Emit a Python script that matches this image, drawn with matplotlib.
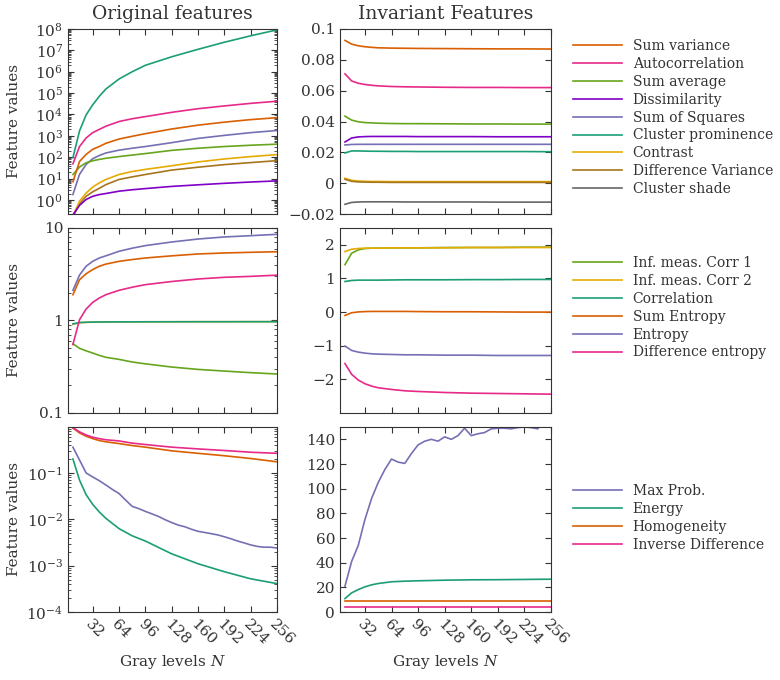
import matplotlib
matplotlib.use("Agg")
import matplotlib.pyplot as plt
from matplotlib.ticker import LogLocator, NullFormatter, FixedLocator, FixedFormatter, FuncFormatter

plt.rcParams['font.family'] = ['DejaVu Serif']
plt.rcParams['mathtext.fontset'] = 'dejavuserif'

# niveaux de gris échantillonnés
N_COARSE = [8, 16, 24, 32, 40, 48, 64, 80, 96, 128, 160, 192, 224, 256]
N_FINE = [8, 16, 24, 32, 40, 48, 56, 64, 72, 80, 88, 96, 104, 112, 120, 128,
          136, 144, 152, 160, 168, 176, 184, 192, 200, 208, 216, 224, 232, 240, 248, 256]

# couleurs
ORANGE = '#d95f02'
PINK = '#e7298a'
GREEN = '#66a61e'
VIOLET = '#8000c8'
BLUE = '#7570b3'
TEAL = '#1b9e77'
YELLOW = '#e6ab02'
BROWN = '#a6761d'
GRAY = '#666666'

## Ligne 1 : valeurs originales ##
orig_sum_variance = [7.1, 63, 135, 234, 316, 447, 708, 955, 1260, 2090, 3160, 4370, 5750, 7080]
orig_autocorrelation = [49, 316, 794, 1410, 2000, 2820, 4680, 6310, 7940, 12600, 18600, 25100, 33100, 41700]
orig_sum_average = [15.5, 34.7, 55, 68, 79, 89, 107, 126, 148, 209, 263, 316, 363, 407]
orig_dissimilarity = [0.2, 0.56, 1.05, 1.48, 1.78, 2.0, 2.57, 3.0, 3.4, 4.3, 5.1, 6.0, 6.9, 7.8]
orig_sum_squares = [1.8, 15.8, 45.7, 85, 120, 158, 214, 263, 316, 479, 759, 1050, 1410, 1780]
orig_cluster_prominence = [95, 1700, 9550, 28200, 70800, 155000, 457000, 1.0e6, 2.0e6, 5.0e6,
                           1.12e7, 2.4e7, 4.8e7, 9.1e7]
orig_contrast = [0.18, 0.87, 2.1, 4.0, 6.3, 9.1, 15.5, 21.4, 26.9, 39.8, 60, 83, 107, 132]
orig_diff_variance = [0.16, 0.65, 1.48, 2.4, 3.5, 5.2, 9.1, 12, 15.5, 25, 34, 45, 56, 69]

## Ligne 1 : valeurs invariantes ##
inv_sum_variance = [0.0926, 0.0902, 0.0891, 0.0885, 0.0881, 0.0878, 0.0876, 0.0875, 0.0874,
                    0.0873, 0.0872, 0.0871, 0.0871, 0.0870]
inv_autocorrelation = [0.0709, 0.0663, 0.0648, 0.0640, 0.0635, 0.0631, 0.0627, 0.0625, 0.0624,
                       0.0622, 0.0621, 0.0621, 0.0620, 0.0620]
inv_sum_average = [0.0435, 0.0409, 0.0398, 0.0393, 0.0391, 0.0389, 0.0387, 0.0386, 0.0386,
                   0.0385, 0.0384, 0.0384, 0.0383, 0.0383]
inv_dissimilarity = [0.0267, 0.0293, 0.0300, 0.0302, 0.0303, 0.0303, 0.0303, 0.0303, 0.0302,
                     0.0302, 0.0302, 0.0301, 0.0301, 0.0301]
inv_sum_squares = [0.0248, 0.0251, 0.0252, 0.0252, 0.0252, 0.0252, 0.0252, 0.0252, 0.0252,
                   0.0252, 0.0252, 0.0252, 0.0252, 0.0252]
inv_cluster_prominence = [0.0196, 0.0209, 0.0209, 0.0208, 0.0207, 0.0207, 0.0206, 0.0206, 0.0205,
                          0.0205, 0.0205, 0.0205, 0.0205, 0.0204]
inv_contrast = [0.0032, 0.0018, 0.0014, 0.0012, 0.0011, 0.0011, 0.0010, 0.0010, 0.0010,
                0.0010, 0.0010, 0.0010, 0.0010, 0.0010]
inv_diff_variance = [0.0025, 0.0012, 0.0008, 0.0007, 0.0006, 0.0006, 0.0005, 0.0005, 0.0005,
                     0.0005, 0.0005, 0.0005, 0.0005, 0.0005]
inv_cluster_shade = [-0.0137, -0.0125, -0.0122, -0.0121, -0.0121, -0.0121, -0.0121, -0.0122,
                     -0.0122, -0.0122, -0.0122, -0.0123, -0.0123, -0.0123]

## Ligne 2 : valeurs originales ##
orig_imc1 = [0.56, 0.50, 0.47, 0.445, 0.42, 0.40, 0.38, 0.356, 0.34, 0.314, 0.296, 0.284, 0.273, 0.264]
orig_imc2 = [0.91, 0.945, 0.955, 0.96, 0.962, 0.964, 0.966, 0.967, 0.968, 0.969, 0.97, 0.97, 0.971, 0.971]
orig_correlation = [0.92, 0.95, 0.958, 0.962, 0.964, 0.965, 0.966, 0.967, 0.968, 0.969, 0.97, 0.97,
                    0.971, 0.971]
orig_sum_entropy = [1.9, 2.76, 3.2, 3.55, 3.86, 4.07, 4.36, 4.56, 4.74, 5.0, 5.24, 5.37, 5.46, 5.54]
orig_entropy = [2.12, 3.1, 3.86, 4.36, 4.74, 5.0, 5.6, 6.05, 6.45, 7.06, 7.6, 8.0, 8.26, 8.54]
orig_diff_entropy = [0.55, 1.02, 1.33, 1.57, 1.75, 1.9, 2.12, 2.29, 2.44, 2.64, 2.81, 2.93, 3.0, 3.09]

## Ligne 2 : valeurs invariantes ##
inv_imc1 = [1.41, 1.75, 1.85, 1.89, 1.90, 1.90, 1.91, 1.91, 1.91, 1.92, 1.92, 1.92, 1.93, 1.93]
inv_imc2 = [1.80, 1.87, 1.89, 1.90, 1.90, 1.90, 1.91, 1.91, 1.91, 1.91, 1.92, 1.92, 1.92, 1.92]
inv_correlation = [0.91, 0.94, 0.95, 0.95, 0.95, 0.95, 0.955, 0.96, 0.96, 0.96, 0.965, 0.965, 0.97, 0.97]
inv_sum_entropy = [-0.10, -0.02, 0.005, 0.015, 0.02, 0.02, 0.02, 0.02, 0.015, 0.01, 0.01, 0.005, 0.0, 0.0]
inv_entropy = [-1.01, -1.14, -1.19, -1.22, -1.24, -1.25, -1.26, -1.27, -1.27, -1.28, -1.28, -1.29,
               -1.29, -1.29]
inv_diff_entropy = [-1.53, -1.85, -2.02, -2.13, -2.2, -2.25, -2.30, -2.34, -2.36, -2.39, -2.41, -2.42,
                    -2.43, -2.44]

## Ligne 3 : valeurs originales ##
orig_max_prob = [0.36, 0.19, 0.10, 0.082, 0.068, 0.055, 0.044, 0.036, 0.026, 0.019,
                 0.017, 0.0148, 0.0131, 0.0115, 0.0098, 0.0085, 0.0075, 0.0069, 0.0061, 0.0055,
                 0.0052, 0.0049, 0.0046, 0.0042, 0.0038, 0.0034, 0.0031, 0.0028, 0.0026, 0.0025,
                 0.0025, 0.0024]
orig_energy = [0.20, 0.07, 0.034, 0.021, 0.0144, 0.0105, 0.0063, 0.0044, 0.0034, 0.0018, 0.0011,
               0.00074, 0.00052, 0.00041]
orig_homogeneity = [0.93, 0.73, 0.62, 0.55, 0.50, 0.47, 0.43, 0.39, 0.36, 0.30, 0.265, 0.235, 0.205, 0.174]
orig_inverse_diff = [0.95, 0.77, 0.66, 0.59, 0.55, 0.52, 0.49, 0.44, 0.41, 0.36, 0.33, 0.305, 0.28, 0.265]

## Ligne 3 : valeurs invariantes ##
inv_max_prob = [21, 41, 54, 75, 92, 105, 115.5, 124, 121.5, 120.5,
                128.5, 135.5, 138.5, 140, 138.5, 142, 140, 143, 149, 143,
                144.5, 145.5, 148.5, 149, 149, 148.5, 149.5, 150, 149.5, 148.5,
                156, 156]
inv_energy = [10.9, 15.5, 18.2, 20.4, 22.0, 23.1, 24.5, 25.0, 25.3, 25.8, 26.1, 26.2, 26.4, 26.6]
inv_homogeneity = [9.2, 9.2, 9.2, 9.2, 9.2, 9.2, 9.2, 9.2, 9.2, 9.2, 9.2, 9.2, 9.2, 9.2]
inv_inverse_diff = [4.1, 4.1, 4.1, 4.1, 4.1, 4.1, 4.1, 4.1, 4.1, 4.1, 4.1, 4.1, 4.1, 4.1]

X_TICKS = [32, 64, 96, 128, 160, 192, 224, 256]
AXIS_COLOR = '#333333'
LW = 1.2
LEG_FS = 10


def style_axes(ax, bottom_labels):
    ax.set_xlim(2, 256)
    ax.set_xticks(X_TICKS)
    ax.tick_params(which='both', direction='in', top=True, right=True,
                   colors=AXIS_COLOR, labelsize=11)
    ax.tick_params(which='major', length=4)
    ax.tick_params(which='minor', length=2)
    for s in ax.spines.values():
        s.set_color(AXIS_COLOR)
        s.set_linewidth(0.8)
    if bottom_labels:
        ax.set_xticklabels([str(t) for t in X_TICKS], rotation=-45, ha='left', va='top',
                           rotation_mode='anchor')
        ax.set_xlabel('Gray levels $N$', fontsize=11, color=AXIS_COLOR, labelpad=4)
    else:
        ax.tick_params(axis='x', labelbottom=False)


def log_axis(ax):
    ax.set_yscale('log')
    ax.yaxis.set_major_locator(LogLocator(base=10, numticks=20))
    ax.yaxis.set_minor_locator(LogLocator(base=10, subs=range(2, 10), numticks=20))
    ax.yaxis.set_minor_formatter(NullFormatter())
    ax.set_ylabel('Feature values', fontsize=11, color=AXIS_COLOR)
    ax.yaxis.set_label_coords(-0.225, 0.5)


def fmt_plain(v, pos):
    return '{:g}'.format(round(v, 6)).replace('-', '\u2212')


def add_legend(ax, top_px):
    ax.legend(loc='upper left', bbox_to_anchor=(573 / W, 1 - top_px / H),
              bbox_transform=fig.transFigure, frameon=False, fontsize=LEG_FS,
              handlelength=3.5, handletextpad=0.8, labelspacing=0.28,
              borderpad=0, borderaxespad=0, labelcolor=AXIS_COLOR)


fig = plt.figure(figsize=(7.8, 6.8), dpi=100)
W, H = 780, 680
lefts = [68, 340]
widths = [209, 211]
tops = [29, 228, 427]
height = 185
axes = []
for r in range(3):
    row = []
    for c in range(2):
        ax = fig.add_axes([lefts[c] / W, 1 - (tops[r] + height) / H, widths[c] / W, height / H])
        row.append(ax)
    axes.append(row)

## Ligne 1 ##
ax = axes[0][0]
ax.plot(N_COARSE, orig_diff_variance, c=BROWN, lw=LW)
ax.plot(N_COARSE, orig_contrast, c=YELLOW, lw=LW)
ax.plot(N_COARSE, orig_cluster_prominence, c=TEAL, lw=LW)
ax.plot(N_COARSE, orig_sum_squares, c=BLUE, lw=LW)
ax.plot(N_COARSE, orig_dissimilarity, c=VIOLET, lw=LW)
ax.plot(N_COARSE, orig_sum_average, c=GREEN, lw=LW)
ax.plot(N_COARSE, orig_autocorrelation, c=PINK, lw=LW)
ax.plot(N_COARSE, orig_sum_variance, c=ORANGE, lw=LW)
log_axis(ax)
ax.set_ylim(0.22, 1e8)
style_axes(ax, False)

ax = axes[0][1]
lignes = [
    (inv_sum_variance, ORANGE, 'Sum variance'),
    (inv_autocorrelation, PINK, 'Autocorrelation'),
    (inv_sum_average, GREEN, 'Sum average'),
    (inv_dissimilarity, VIOLET, 'Dissimilarity'),
    (inv_sum_squares, BLUE, 'Sum of Squares'),
    (inv_cluster_prominence, TEAL, 'Cluster prominence'),
    (inv_contrast, YELLOW, 'Contrast'),
    (inv_diff_variance, BROWN, 'Difference Variance'),
    (inv_cluster_shade, GRAY, 'Cluster shade'),
]
for vals, col, lab in lignes:
    ax.plot(N_COARSE, vals, c=col, lw=LW, label=lab)
ax.set_ylim(-0.02, 0.1)
ax.set_yticks([-0.02, 0, 0.02, 0.04, 0.06, 0.08, 0.1])
ax.yaxis.set_major_formatter(FuncFormatter(fmt_plain))
style_axes(ax, False)
add_legend(ax, 39)

## Ligne 2 ##
ax = axes[1][0]
ax.plot(N_COARSE, orig_imc1, c=GREEN, lw=LW)
ax.plot(N_COARSE, orig_imc2, c=YELLOW, lw=LW)
ax.plot(N_COARSE, orig_correlation, c=TEAL, lw=LW)
ax.plot(N_COARSE, orig_sum_entropy, c=ORANGE, lw=LW)
ax.plot(N_COARSE, orig_entropy, c=BLUE, lw=LW)
ax.plot(N_COARSE, orig_diff_entropy, c=PINK, lw=LW)
log_axis(ax)
ax.set_ylim(0.1, 10)
ax.yaxis.set_major_locator(FixedLocator([0.1, 1, 10]))
ax.yaxis.set_major_formatter(FixedFormatter(['0.1', '1', '10']))
style_axes(ax, False)

ax = axes[1][1]
lignes = [
    (inv_imc1, GREEN, 'Inf. meas. Corr 1'),
    (inv_imc2, YELLOW, 'Inf. meas. Corr 2'),
    (inv_correlation, TEAL, 'Correlation'),
    (inv_sum_entropy, ORANGE, 'Sum Entropy'),
    (inv_entropy, BLUE, 'Entropy'),
    (inv_diff_entropy, PINK, 'Difference entropy'),
]
for vals, col, lab in lignes:
    ax.plot(N_COARSE, vals, c=col, lw=LW, label=lab)
ax.set_ylim(-3, 2.5)
ax.set_yticks([-2, -1, 0, 1, 2])
ax.yaxis.set_major_formatter(FuncFormatter(fmt_plain))
style_axes(ax, False)
add_legend(ax, 256)

## Ligne 3 ##
ax = axes[2][0]
ax.plot(N_FINE, orig_max_prob, c=BLUE, lw=LW)
ax.plot(N_COARSE, orig_energy, c=TEAL, lw=LW)
ax.plot(N_COARSE, orig_homogeneity, c=ORANGE, lw=LW)
ax.plot(N_COARSE, orig_inverse_diff, c=PINK, lw=LW)
log_axis(ax)
ax.set_ylim(1e-4, 0.98)
style_axes(ax, True)

ax = axes[2][1]
ax.plot(N_FINE, inv_max_prob, c=BLUE, lw=LW, label='Max Prob.')
ax.plot(N_COARSE, inv_energy, c=TEAL, lw=LW, label='Energy')
ax.plot(N_COARSE, inv_homogeneity, c=ORANGE, lw=LW, label='Homogeneity')
ax.plot(N_COARSE, inv_inverse_diff, c=PINK, lw=LW, label='Inverse Difference')
ax.set_ylim(0, 150)
ax.set_yticks([0, 20, 40, 60, 80, 100, 120, 140])
style_axes(ax, True)
add_legend(ax, 484)

# Titres des colonnes
fig.text(172.5 / W, 1 - 14 / H, 'Original features', ha='center', va='center',
         fontsize=13.5, color=AXIS_COLOR)
fig.text(445.5 / W, 1 - 14 / H, 'Invariant Features', ha='center', va='center',
         fontsize=13.5, color=AXIS_COLOR)

fig.savefig('out.png', dpi=100)
